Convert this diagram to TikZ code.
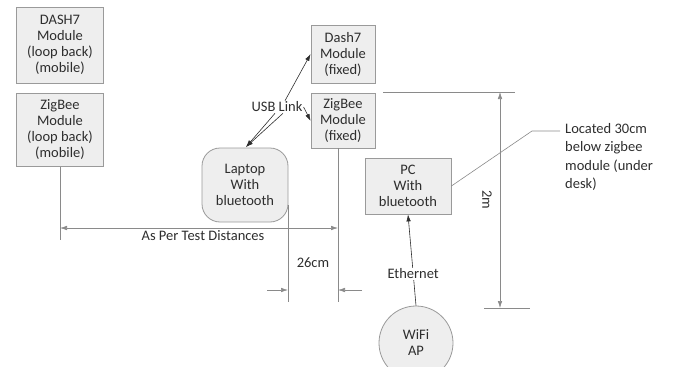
\documentclass[tikz,border=0pt]{standalone}
\usepackage{fontspec}
\setmainfont{Carlito}
\usetikzlibrary{positioning,arrows.meta}
\definecolor{boxfill}{HTML}{EEEEEE}
\definecolor{boxline}{HTML}{9A9A9A}
\definecolor{dimline}{HTML}{8A8A8A}
\definecolor{ink}{HTML}{2E2E2E}

\begin{document}
\begin{tikzpicture}[
    x=1pt, y=-1pt,
    >={Latex[length=7pt,width=4.5pt]},
    font=\fontsize{14.5}{16}\selectfont,
    text=ink,
    module/.style = {
      draw = boxline,
      fill = boxfill,
      thick,
      align = center,
      inner sep = 0pt
    },
    dim/.style = {
      draw = dimline,
      semithick
    },
    link/.style = {
      draw = ink,
      semithick
    }
  ]
  \useasboundingbox (0,0) rectangle (673,367);

  % modules
  \node[module, minimum width=87, minimum height=76] (dashmob) at (60,45)
    {DASH7\\Module\\(loop back)\\(mobile)};
  \node[module, minimum width=87, minimum height=73] (zigmob) at (60,130)
    {ZigBee\\Module\\(loop back)\\(mobile)};
  \node[module, minimum width=64, minimum height=58] (dashfix) at (343,54)
    {Dash7\\Module\\(fixed)};
  \node[module, minimum width=64, minimum height=55] (zigfix) at (343,121)
    {ZigBee\\Module\\(fixed)};
  \node[module, rounded corners=18, minimum width=86, minimum height=74] (laptop) at (245,185)
    {Laptop\\With\\bluetooth};
  \node[module, minimum width=86, minimum height=56] (pc) at (408,186)
    {PC\\With\\bluetooth};
  \node[module, circle, minimum size=74] (wifi) at (416,343) {WiFi\\AP};
  \node[align=left, anchor=north west, inner sep=0pt,
        font=\fontsize{14.5}{18.5}\selectfont] (note) at (565,123)
    {Located 30cm\\below zigbee\\module (under\\desk)};

  % usb links
  \node[inner sep=1pt] (usb) at (277,107) {USB Link};
  \draw[link, ->] ([xshift=8]usb.north) -- (dashfix.west);
  \draw[link, ->] (usb.east) -- (zigfix.west);
  \coordinate (lt) at (246,147);
  \draw[link, ->] ([xshift=6]usb.south) -- (lt);
  \draw[link, ->] ([xshift=-2]usb.south) -- (lt);

  % test distance
  \coordinate (d1) at (60,228);
  \coordinate (d2) at (338,228);
  \draw[dim] (zigmob.south) -- (60,240);
  \draw[dim, <->] (d1) -- (d2);
  \node[fill=white, inner sep=1pt] (dist) at (203,236) {As Per Test Distances};

  % 26cm
  \draw[dim] (288,205) -- (288,302);
  \draw[dim] (338,148) -- (338,302);
  \draw[dim, ->] (267,290) -- (288,290);
  \draw[dim, ->] (362,290) -- (338,290);
  \node (cm) at (313,263) {26cm};

  % 2m
  \draw[dim] (383,92) -- (515,92);
  \draw[dim] (484,308) -- (530,308);
  \draw[dim, <->] (500,92) -- (500,308);
  \node[rotate=-90] (two) at (487,200) {2m};

  % note and ethernet
  \draw[dim] (pc.east) -- (532,131) -- ([xshift=-5]note.north west |- 0,131);
  \draw[link, ->] (wifi.north) -- node[pos=0.35, fill=white, inner sep=1pt] (eth) {Ethernet} (pc.south);
\end{tikzpicture}
\end{document}
